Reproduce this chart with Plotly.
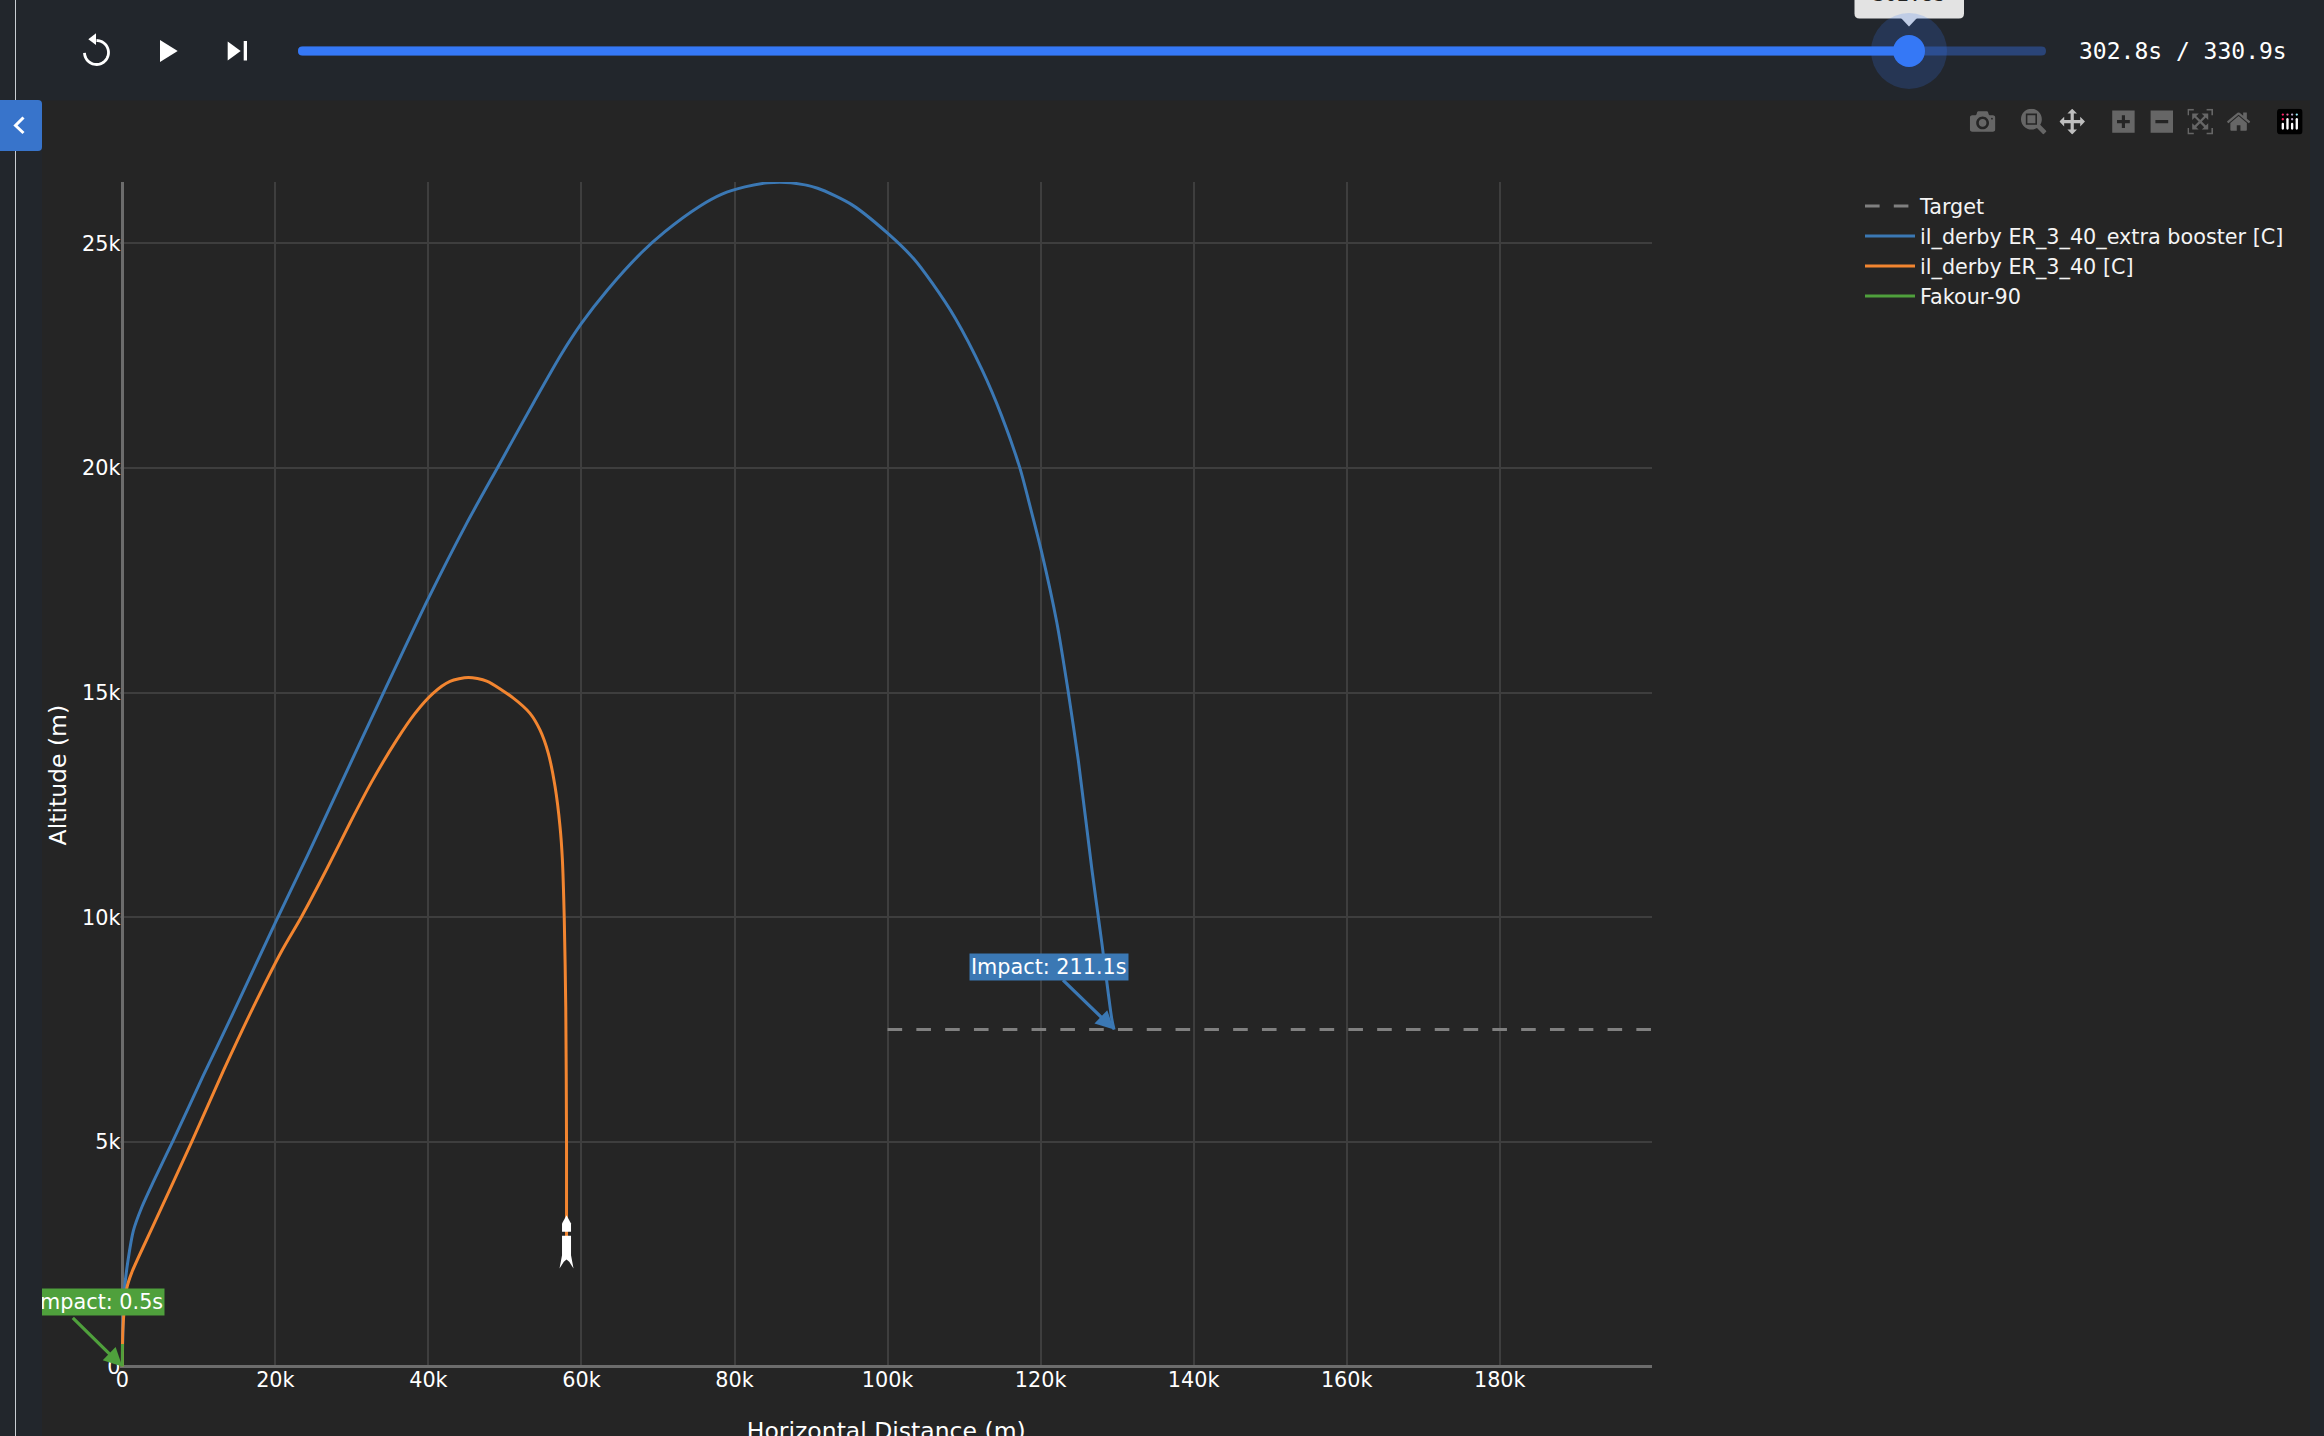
import numpy as np
import plotly.graph_objects as go

# ---------- data (metres) ----------
blue_name = "il_derby ER_3_40_extra booster [C]"
blue_x = [0, 90, 310, 790, 1440, 2530, 4050, 6670, 10590, 14070, 20000, 24100, 27570, 34110, 40000,
          45000, 49360, 53850, 57350, 60000, 63370, 67860, 70870, 75360, 78370, 81360, 84370, 87370,
          90860, 95370, 100000, 103370, 105870, 108870, 112370, 114870, 117300, 118700, 120150,
          122100, 123600, 124930, 126700, 128000, 129300, 129600]
blue_y = [0, 870, 1760, 2410, 3020, 3540, 4110, 5040, 6480, 7720, 9880, 11340, 12610, 14990, 17100,
          18770, 20110, 21490, 22530, 23220, 23960, 24800, 25260, 25820, 26100, 26260, 26350, 26350,
          26230, 25860, 25230, 24670, 24110, 23330, 22180, 21180, 20000, 19100, 18120,
          16580, 15030, 13490, 11070, 9430, 7740, 7500]

orange_name = "il_derby ER_3_40 [C]"
orange_x = [0, 90, 570, 1230, 4050, 9070, 13200, 17120, 20830, 23440, 26700, 29750, 32600, 35860,
            38250, 40640, 42820, 45220, 47620, 51100, 53280, 54580, 55670, 56550, 57200, 57500,
            57750, 57950, 58050, 58050]
orange_y = [0, 870, 1730, 2090, 3140, 5000, 6580, 8000, 9250, 10020, 11070, 12100, 13020, 13950,
            14540, 14990, 15250, 15340, 15260, 14880, 14540, 14170, 13650, 12910, 12020, 11310,
            10000, 8000, 5000, 2790]

green_name = "Fakour-90"
green_x = [0, 8]
green_y = [0, 500]

target_name = "Target"
target_x = [100000, 199900]
target_y = [7500, 7500]

blue_label = "Impact: 211.1s"
green_label = "Impact: 0.5s"
time_label = "302.8s / 330.9s"
thumb_label = "302.8s"
x_title = "Horizontal Distance (m)"
y_title = "Altitude (m)"
x_ticks = list(range(0, 200000, 20000))
y_ticks = list(range(0, 30000, 5000))

# ---------- page geometry ----------
W, H = 2324, 1480  # figure runs slightly past the 1436 px window, so the x title is cut as in the reference
X0, SX = 122.3, 153.05 / 20000
Y0, SY = 1366.5, 224.6 / 5000
x_range = [-240, 199900]
y_range = [-40, 26370]
FONT = "DejaVu Sans"
CHROME = "#22262c"
PLOT_BG = "#252525"
SIZE = 20.75


def px(x):
    return x / W


def py(y):
    return 1 - y / H


def path(points, close=True):
    s = "M " + " L ".join(f"{px(a):.6f},{py(b):.6f}" for a, b in points)
    return s + (" Z" if close else "")


def round_rect(x0, y0, x1, y1, r):
    def p(a, b):
        return f"{px(a):.6f},{py(b):.6f}"
    return (f"M {p(x0 + r, y0)} L {p(x1 - r, y0)} Q {p(x1, y0)} {p(x1, y0 + r)} "
            f"L {p(x1, y1 - r)} Q {p(x1, y1)} {p(x1 - r, y1)} L {p(x0 + r, y1)} "
            f"Q {p(x0, y1)} {p(x0, y1 - r)} L {p(x0, y0 + r)} Q {p(x0, y0)} {p(x0 + r, y0)} Z")


def fill_path(d, color):
    return dict(type="path", xref="paper", yref="paper", path=d, fillcolor=color,
                line=dict(width=0), layer="above")


def circle(cx, cy, r, color):
    return dict(type="circle", xref="paper", yref="paper", x0=px(cx - r), x1=px(cx + r),
                y0=py(cy + r), y1=py(cy - r), fillcolor=color, line=dict(width=0), layer="above")


fig = go.Figure()
fig.add_trace(go.Scatter(x=target_x, y=target_y, name=target_name, mode="lines",
                         line=dict(color="#808080", width=3, dash="14.6px,14.2px")))
fig.add_trace(go.Scatter(x=blue_x, y=blue_y, name=blue_name, mode="lines",
                         line=dict(color="#3b78b4", width=3, shape="spline", smoothing=0.7)))
fig.add_trace(go.Scatter(x=orange_x, y=orange_y, name=orange_name, mode="lines",
                         line=dict(color="#f28530", width=3, shape="spline", smoothing=0.7)))
fig.add_trace(go.Scatter(x=green_x, y=green_y, name=green_name, mode="lines",
                         line=dict(color="#4fa03c", width=3)))

shapes = []
# top bar and right edge
shapes.append(dict(type="rect", xref="paper", yref="paper", x0=0, x1=1, y0=py(100.5), y1=1,
                   fillcolor=CHROME, line=dict(width=0), layer="above"))
shapes.append(dict(type="rect", xref="paper", yref="paper", x0=px(2310), x1=1, y0=0, y1=1,
                   fillcolor=CHROME, line=dict(width=0), layer="above"))

# player buttons
theta = np.radians(np.linspace(-90, 178, 40))
arc = [(96.5 + 12 * np.cos(t), 52.5 + 12 * np.sin(t)) for t in theta]
shapes.append(dict(type="path", xref="paper", yref="paper", path=path(arc, close=False),
                   line=dict(color="white", width=2.8), layer="above"))
shapes.append(fill_path(path([(88.3, 39.2), (96, 33.3), (96, 45)]), "white"))
shapes.append(fill_path(path([(160, 40), (177.7, 51), (160, 62)]), "white"))
shapes.append(fill_path(path([(227.7, 41.5), (240.7, 51), (227.7, 60.5)]), "white"))
shapes.append(fill_path(path([(243.7, 41), (247, 41), (247, 60.5), (243.7, 60.5)]), "white"))

# timeline slider
shapes.append(fill_path(round_rect(298, 46.5, 2046, 55.5, 4.5), "#2a4478"))
shapes.append(fill_path(round_rect(298, 46.5, 1909, 55.5, 4.5), "#3578f6"))
shapes.append(fill_path(round_rect(1854.5, -12, 1964, 18.5, 5), "#e3e3e3"))
shapes.append(fill_path(path([(1901, 18), (1917, 18), (1909, 26.5)]), "#e3e3e3"))
shapes.append(circle(1909, 51, 38, "rgba(53,120,246,0.2)"))
shapes.append(circle(1909, 51, 16, "#3578f6"))

# rocket at the current point of the orange trace (outline in screen pixels)
rocket_parts = [
    [(0, 26), (4.5, 17.7), (4.5, 9.3), (-4.5, 9.3), (-4.5, 17.7)],
    [(-4.5, 5.3), (4.5, 5.3), (4.5, -14), (7, -27.3), (2.7, -20.7), (0, -18.3),
     (-2.7, -20.7), (-7, -27.3), (-4.5, -14)],
]
for part in rocket_parts:
    shapes.append(dict(type="path", xref="x", yref="y", xsizemode="pixel", ysizemode="pixel",
                       xanchor=orange_x[-1], yanchor=orange_y[-1],
                       path="M " + " L ".join(f"{a},{b}" for a, b in part) + " Z",
                       fillcolor="white", line=dict(width=0), layer="above"))

annotations = [
    dict(text=blue_label, x=blue_x[-1], y=blue_y[-1], xref="x", yref="y", ax=-65, ay=-63,
         showarrow=True, arrowhead=2, arrowsize=1.15, arrowwidth=3.2, arrowcolor="#3b78b4",
         bgcolor="#3b78b4", font=dict(family=FONT, size=SIZE, color="white")),
    dict(text="", x=0, y=0, xref="x", yref="y", ax=-51, ay=-50,
         showarrow=True, arrowhead=2, arrowsize=1.15, arrowwidth=3.2, arrowcolor="#4fa03c"),
    dict(text=green_label, x=px(165), y=py(1302), xref="paper", yref="paper",
         xanchor="right", yanchor="middle", showarrow=False, bgcolor="#4fa03c",
         font=dict(family=FONT, size=SIZE, color="white")),
    dict(text=time_label, x=px(2183), y=py(51), xref="paper", yref="paper",
         xanchor="center", yanchor="middle", showarrow=False,
         font=dict(family="DejaVu Sans Mono", size=23, color="white")),
    dict(text=thumb_label, x=px(1909), y=py(-6), xref="paper", yref="paper",
         xanchor="center", yanchor="middle", showarrow=False,
         font=dict(family="DejaVu Sans Mono", size=20, color="#222222")),
]

axis_common = dict(showgrid=True, gridcolor="#3e3e3e", gridwidth=1.5, zeroline=True,
                   zerolinecolor="#6c6c6c", zerolinewidth=3, showline=False, ticks="",
                   tickfont=dict(family=FONT, size=SIZE, color="white"), automargin=False)

fig.update_layout(
    width=W, height=H, autosize=False,
    margin=dict(l=0, r=0, t=0, b=0, pad=0),
    paper_bgcolor=PLOT_BG, plot_bgcolor=PLOT_BG,
    font=dict(family=FONT, color="white", size=SIZE),
    dragmode="pan",
    hovermode=False,
    xaxis=dict(domain=[px(X0 + x_range[0] * SX), px(X0 + x_range[1] * SX)], range=x_range,
               tickvals=x_ticks, ticktext=[f"{int(v / 1000)}k" if v else "0" for v in x_ticks],
               ticklabelstandoff=-3,
               title=dict(text=x_title, font=dict(family=FONT, size=23.5, color="white"), standoff=31),
               **axis_common),
    yaxis=dict(domain=[py(Y0 - y_range[0] * SY), py(Y0 - y_range[1] * SY)], range=y_range,
               tickvals=y_ticks, ticktext=[f"{int(v / 1000)}k" if v else "0" for v in y_ticks],
               ticklabelstandoff=-1,
               title=dict(text=y_title, font=dict(family=FONT, size=23.5, color="white"), standoff=8),
               **axis_common),
    legend=dict(x=px(1860), y=py(186), xanchor="left", yanchor="top", itemwidth=50,
                bgcolor="rgba(0,0,0,0)", traceorder="normal",
                font=dict(family=FONT, size=SIZE, color="#f4f4f4")),
    modebar=dict(bgcolor="rgba(0,0,0,0)", color="rgba(255,255,255,0.3)",
                 activecolor="rgba(255,255,255,0.7)", orientation="h"),
    shapes=shapes,
    annotations=annotations,
)

post = """
var s = document.createElement('style');
s.textContent = 'html,body{margin:0;padding:0;overflow:hidden;background:#252525}'
  + '.modebar-container{top:104px!important}'
  + '.modebar{transform:scale(1.6);transform-origin:top right;right:15px!important;top:0!important}';
document.head.appendChild(s);
var strip = document.createElement('div');
strip.style.cssText = 'position:fixed;left:0;top:0;width:42px;height:100%;background:#22262c;z-index:2000';
strip.innerHTML = '<div style="position:absolute;left:15px;top:0;width:1px;height:100%;background:#c9cdd2"></div>'
  + '<div style="position:absolute;left:0;top:100px;width:42px;height:51px;background:#3874cb;border-radius:0 4px 4px 0">'
  + '<svg width="42" height="51" style="position:absolute;left:0;top:0"><path d="M23.5 17.5 L15.5 25.5 L23.5 33" fill="none" stroke="white" stroke-width="3"/></svg></div>';
document.body.appendChild(strip);
"""

fig.write_html("out.html", config={"displayModeBar": True}, post_script=post)
